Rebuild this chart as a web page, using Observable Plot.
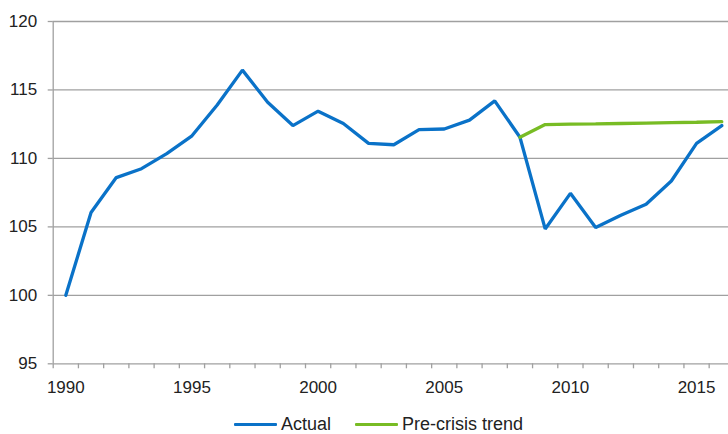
<!DOCTYPE html>
<html>
<head>
<meta charset="utf-8">
<script src="https://cdn.jsdelivr.net/npm/d3@7"></script>
<script src="https://cdn.jsdelivr.net/npm/@observablehq/plot@0.6"></script>
<style>
  html, body { margin: 0; padding: 0; background: #fff; overflow: hidden; }
  #wrap { position: relative; width: 728px; height: 434px; }
  #legend { position: absolute; left: 234px; top: 416px; height: 17px; display: flex; align-items: center;
            font-family: "Liberation Sans", Arial, sans-serif; font-size: 18px; line-height: 17px; color: #222; }
  .item { display: flex; align-items: center; margin-right: 24px; }
  .sw { width: 43px; height: 3.4px; margin-right: 4px; border-radius: 1px; }
</style>
</head>
<body>
<div id="wrap">
  <div id="chart"></div>
  <div id="legend"></div>
</div>
<script>
const years = [1990,1991,1992,1993,1994,1995,1996,1997,1998,1999,2000,2001,2002,2003,2004,2005,2006,2007,2008,2009,2010,2011,2012,2013,2014,2015,2016];
const actual = [100,106.05,108.6,109.25,110.35,111.65,113.9,116.45,114.1,112.4,113.45,112.55,111.1,111.0,112.1,112.15,112.8,114.2,111.55,104.85,107.45,104.95,105.85,106.65,108.35,111.1,112.4];
const trendYears = [2008,2009,2010,2011,2012,2013,2014,2015,2016];
const trend = [111.55,112.47,112.5,112.52,112.55,112.58,112.61,112.64,112.68];
const yTicks = [95,100,105,110,115,120];
const xLabels = [1990,1995,2000,2005,2010,2015];
const seriesNames = ["Actual", "Pre-crisis trend"];
const colors = ["#0a72c8", "#78bc24"];

const actualData = years.map((y, i) => ({year: y, value: actual[i]}));
const trendData = trendYears.map((y, i) => ({year: y, value: trend[i]}));
const boundaries = years.map(y => y - 0.5).concat([years[years.length - 1] + 0.5]);

const grey = "#a0a0a0";
const chart = Plot.plot({
  width: 728,
  height: 400,
  marginLeft: 52.7,
  marginRight: 0,
  marginTop: 21,
  marginBottom: 36.7,
  x: {domain: [1989.5, 2016.5], range: [52.7, 733.9]},
  y: {domain: [95, 120], range: [363.3, 21]},
  style: {fontFamily: "'Liberation Sans', Arial, sans-serif", fontSize: "17px", color: "#222", background: "#fff"},
  marks: [
    Plot.ruleY(yTicks, {stroke: grey, strokeWidth: 1.3}),
    Plot.ruleX([1989.5], {y1: 95, y2: 120, stroke: grey, strokeWidth: 1.3}),
    Plot.axisY({ticks: yTicks, tickSize: 5, tickPadding: 11, stroke: grey, strokeWidth: 1.3, fill: "#222", label: null, tickFormat: d => String(d)}),
    Plot.axisX({ticks: boundaries, tickSize: 5, stroke: grey, strokeWidth: 1.3, text: null, label: null}),
    Plot.axisX({ticks: xLabels, tickSize: 0, tickPadding: 17, fill: "#222", label: null, tickFormat: d => String(d)}),
    Plot.line(actualData, {x: "year", y: "value", stroke: colors[0], strokeWidth: 3.3, strokeLinejoin: "miter"}),
    Plot.line(trendData, {x: "year", y: "value", stroke: colors[1], strokeWidth: 3.3, strokeLinejoin: "miter"})
  ]
});
document.getElementById("chart").appendChild(chart);

const legend = document.getElementById("legend");
seriesNames.forEach((name, i) => {
  const item = document.createElement("div");
  item.className = "item";
  const sw = document.createElement("div");
  sw.className = "sw";
  sw.style.background = colors[i];
  const t = document.createElement("span");
  t.textContent = name;
  item.appendChild(sw);
  item.appendChild(t);
  legend.appendChild(item);
});
</script>
</body>
</html>
